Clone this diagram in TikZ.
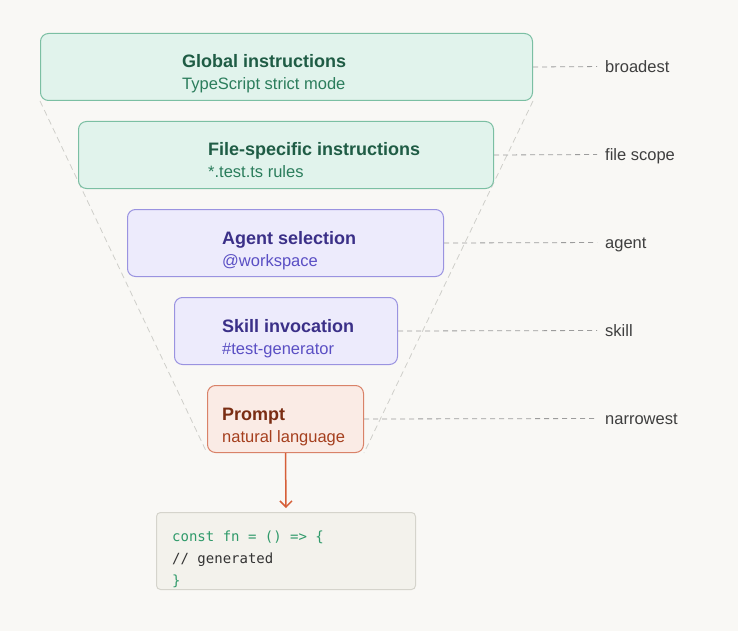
\documentclass[tikz,border=0pt]{standalone}
\usepackage{fontspec}
\setmainfont{Liberation Sans}
\setmonofont{DejaVu Sans Mono}
\usepackage{tikz}
\usetikzlibrary{arrows.meta}
\definecolor{bgcol}{HTML}{F9F8F5}
\definecolor{greenfill}{HTML}{E1F3EC}
\definecolor{greenline}{HTML}{7BBFA3}
\definecolor{greentitle}{HTML}{1F5C45}
\definecolor{greensub}{HTML}{2B7D5C}
\definecolor{purplefill}{HTML}{EDEBFC}
\definecolor{purpleline}{HTML}{9A93E0}
\definecolor{purpletitle}{HTML}{3B3088}
\definecolor{purplesub}{HTML}{5A4FC4}
\definecolor{orangefill}{HTML}{FAEBE5}
\definecolor{orangeline}{HTML}{D98268}
\definecolor{orangetitle}{HTML}{7A2D13}
\definecolor{orangesub}{HTML}{A53F1E}
\definecolor{arrowcol}{HTML}{D65F38}
\definecolor{codefill}{HTML}{F3F2EC}
\definecolor{codeline}{HTML}{D5D4CC}
\definecolor{codegreen}{HTML}{2F9A6A}
\definecolor{codegray}{HTML}{333333}
\definecolor{sidecol}{HTML}{3F3F3F}
\definecolor{guidecol}{HTML}{9C9C9C}
\definecolor{funnelcol}{HTML}{CFCFCA}
\pgfdeclarelayer{background}
\pgfsetlayers{background,main}
\tikzstyle{layer} = [rectangle, rounded corners=8pt, line width=1pt, anchor=north west, minimum height=67pt]
\tikzstyle{greenbox} = [layer, draw=greenline, fill=greenfill]
\tikzstyle{purplebox} = [layer, draw=purpleline, fill=purplefill]
\tikzstyle{orangebox} = [layer, draw=orangeline, fill=orangefill]
\tikzstyle{codebox} = [rectangle, rounded corners=4pt, line width=1pt, anchor=north west, draw=codeline, fill=codefill]
\tikzstyle{title} = [anchor=base west, inner sep=0pt, font=\fontsize{18}{21}\selectfont\bfseries]
\tikzstyle{sub} = [anchor=base west, inner sep=0pt, font=\fontsize{16.5}{19}\selectfont]
\tikzstyle{code} = [anchor=base west, inner sep=0pt, font=\fontsize{14}{17}\ttfamily]
\tikzstyle{side} = [anchor=west, inner sep=0pt, text height=12pt, text depth=0pt, text=sidecol, font=\fontsize{16.5}{19}\selectfont]
\tikzstyle{guide} = [guidecol, line width=0.8pt, dash pattern=on 5pt off 4pt, shorten >=8pt]
\tikzstyle{funnel} = [funnelcol, line width=0.8pt, dash pattern=on 6pt off 4pt]
\tikzstyle{arrow} = [arrowcol, line width=1.5pt, ->, >={Straight Barb[length=6pt,width=12pt]}]

\begin{document}
\begin{tikzpicture}[x=1pt, y=-1pt]
\useasboundingbox (0,0) rectangle (738,631);

% layers, broadest on top
\node (global) [greenbox, minimum width=492pt] at (40,33) {};
\node (file) [greenbox, minimum width=415pt] at (78,121) {};
\node (agent) [purplebox, minimum width=316pt] at (127,209) {};
\node (skill) [purplebox, minimum width=223pt] at (174,297) {};
\node (prompt) [orangebox, minimum width=156pt] at (207,385) {};

\node (globalT) [title, text=greentitle] at (182,68) {Global instructions};
\node (globalS) [sub, text=greensub] at (182,90) {TypeScript strict mode};
\node (fileT) [title, text=greentitle] at (208,156) {File-specific instructions};
\node (fileS) [sub, text=greensub] at (208,178) {*.test.ts rules};
\node (agentT) [title, text=purpletitle] at (222,244) {Agent selection};
\node (agentS) [sub, text=purplesub] at (222,266) {@workspace};
\node (skillT) [title, text=purpletitle] at (222,332) {Skill invocation};
\node (skillS) [sub, text=purplesub] at (222,354) {\#test-generator};
\node (promptT) [title, text=orangetitle] at (222,420) {Prompt};
\node (promptS) [sub, text=orangesub] at (222,442) {natural language};

% funnel outline, behind the layers
\begin{pgfonlayer}{background}
\fill [bgcol] (0,0) rectangle (738,631);
\draw [funnel] (global.south west) -- (prompt.south west);
\draw [funnel] (global.south east) -- (prompt.south east);
\end{pgfonlayer}

% scope labels
\node (broad) [side] at (605,66.5) {broadest};
\node (fscope) [side] at (605,154.5) {file scope};
\node (ascope) [side] at (605,242.5) {agent};
\node (sscope) [side] at (605,330.5) {skill};
\node (narrow) [side] at (605,418.5) {narrowest};
\draw [guide] (global.east) -- (broad.west);
\draw [guide] (file.east) -- (fscope.west);
\draw [guide] (agent.east) -- (ascope.west);
\draw [guide] (skill.east) -- (sscope.west);
\draw [guide] (prompt.east) -- (narrow.west);

% output
\node (out) [codebox, minimum width=259pt, minimum height=77pt] at (156,512) {};
\node (line1) [code, text=codegreen] at (172,541) {const fn = () => \{};
\node (line2) [code, text=codegray] at (172,563) {// generated};
\node (line3) [code, text=codegreen] at (172,585) {\}};
\draw [arrow] (prompt.south) -- ([yshift=4pt]out.north);
\end{tikzpicture}
\end{document}
